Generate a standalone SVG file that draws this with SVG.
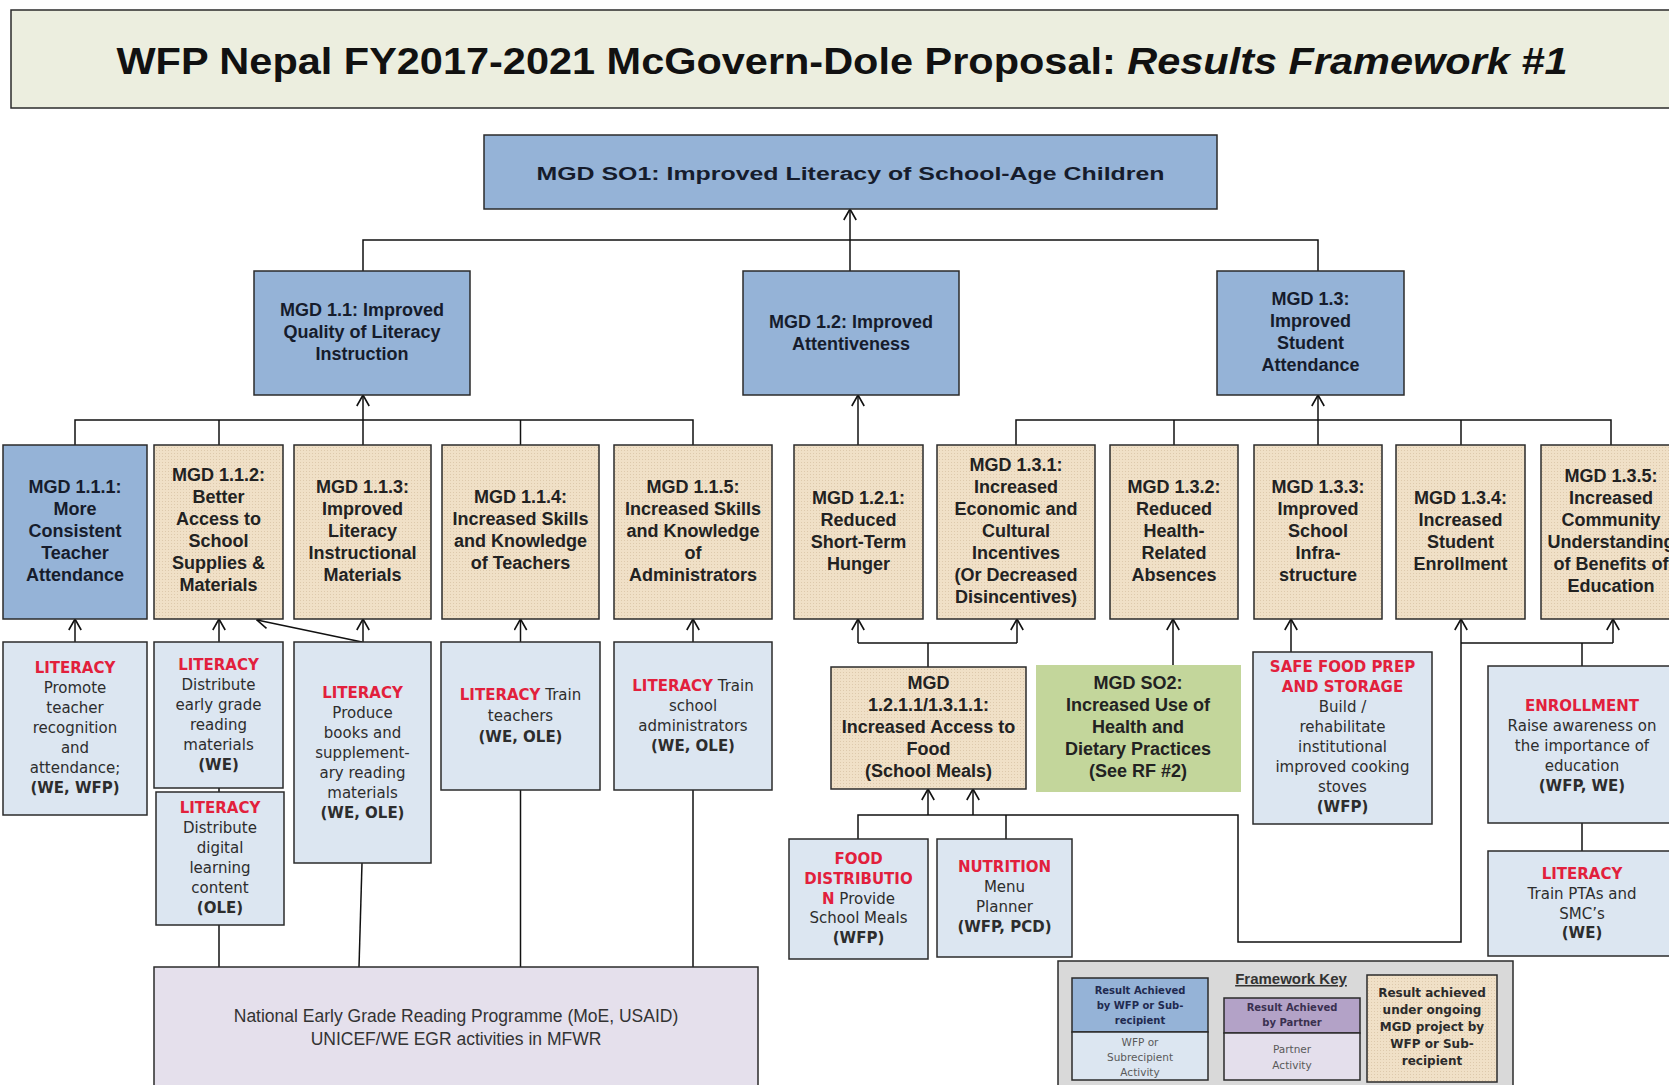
<svg xmlns="http://www.w3.org/2000/svg" width="1669" height="1085" viewBox="0 0 1669 1085">
<defs>
<pattern id="hatch" width="3" height="3" patternUnits="userSpaceOnUse">
<rect width="3" height="3" fill="#F0E0C7"/>
<rect width="1" height="1" fill="#DDC9AC"/>
</pattern>
<marker id="arr" viewBox="0 0 13 14" refX="12" refY="7" markerWidth="13" markerHeight="14" markerUnits="userSpaceOnUse" orient="auto">
<path d="M1,0.8 L12,7 L1,13.2" fill="none" stroke="#111" stroke-width="1.6"/>
</marker>
</defs>
<style>
.box{stroke:#2b2b2b;stroke-width:1.5}
.res{fill:#95B3D7}
.tan{fill:url(#hatch)}
.act{fill:#DCE6F1}
.t{font-family:"Liberation Sans",Arial,sans-serif;font-weight:bold;font-size:18px;fill:#222;text-anchor:middle}
.tb{fill:#161c2c}
.a{font-family:"DejaVu Sans",Verdana,sans-serif;font-size:15px;fill:#2d2d2d;text-anchor:middle}
.red{fill:#E2203C;font-weight:bold}
.b{font-weight:bold}
.conn line,.conn polyline{stroke:#111;stroke-width:1.5;fill:none}
.k{font-family:"DejaVu Sans",Verdana,sans-serif;text-anchor:middle}
</style>
<rect width="1669" height="1085" fill="#ffffff"/>

<g id="title">
<rect x="11" y="10" width="1670" height="98" fill="#ECEEDF" stroke="#2b2b2b" stroke-width="1.5"/>
<text x="842" y="74" font-family="Liberation Sans,Arial,sans-serif" font-weight="bold" font-size="37" fill="#111" text-anchor="middle" textLength="1451" lengthAdjust="spacingAndGlyphs">WFP Nepal FY2017-2021 McGovern-Dole Proposal: <tspan font-style="italic">Results Framework #1</tspan></text>
</g>

<g class="conn" id="connectors">
<line x1="850" y1="271" x2="850" y2="209" marker-end="url(#arr)"/>
<polyline points="363,271 363,240 1318,240 1318,271"/>
<line x1="363" y1="445" x2="363" y2="395" marker-end="url(#arr)"/>
<polyline points="75,445 75,420 693,420 693,445"/>
<line x1="219" y1="420" x2="219" y2="445"/>
<line x1="520.5" y1="420" x2="520.5" y2="445"/>
<line x1="858" y1="445" x2="858" y2="395" marker-end="url(#arr)"/>
<line x1="1318" y1="445" x2="1318" y2="395" marker-end="url(#arr)"/>
<polyline points="1016,445 1016,420 1611,420 1611,445"/>
<line x1="1174" y1="420" x2="1174" y2="445"/>
<line x1="1461" y1="420" x2="1461" y2="445"/>
<line x1="75" y1="642" x2="75" y2="619" marker-end="url(#arr)"/>
<line x1="219" y1="642" x2="219" y2="619" marker-end="url(#arr)"/>
<line x1="363" y1="642" x2="363" y2="619" marker-end="url(#arr)"/>
<line x1="362" y1="642" x2="257" y2="620" marker-end="url(#arr)"/>
<line x1="520.5" y1="642" x2="520.5" y2="619" marker-end="url(#arr)"/>
<line x1="693" y1="642" x2="693" y2="619" marker-end="url(#arr)"/>
<line x1="219" y1="788" x2="219" y2="792"/>
<line x1="219" y1="925" x2="219" y2="967"/>
<line x1="362" y1="863" x2="359" y2="967"/>
<line x1="520.5" y1="790" x2="520.5" y2="967"/>
<line x1="693" y1="790" x2="693" y2="967"/>
<line x1="928" y1="667" x2="928" y2="643"/>
<polyline points="858,643 1017,643"/>
<line x1="858" y1="643" x2="858" y2="619" marker-end="url(#arr)"/>
<line x1="1017" y1="643" x2="1017" y2="619" marker-end="url(#arr)"/>
<line x1="1173" y1="665" x2="1173" y2="619" marker-end="url(#arr)"/>
<line x1="1291" y1="652" x2="1291" y2="619" marker-end="url(#arr)"/>
<polyline points="858,839 858,815 1238,815 1238,942 1461,942 1461,619" marker-end="url(#arr)"/>
<line x1="1006" y1="839" x2="1006" y2="815"/>
<line x1="928" y1="815" x2="928" y2="789" marker-end="url(#arr)"/>
<line x1="973" y1="815" x2="973" y2="789" marker-end="url(#arr)"/>
<line x1="1582" y1="666" x2="1582" y2="643"/>
<polyline points="1461,643 1613,643"/>
<line x1="1613" y1="643" x2="1613" y2="619" marker-end="url(#arr)"/>
<line x1="1582" y1="823" x2="1582" y2="851"/>
</g>

<g id="so1">
<rect class="box res" x="484" y="135" width="733" height="74"/>
<text class="t tb" x="850.5" y="180" font-size="23" textLength="628" lengthAdjust="spacingAndGlyphs">MGD SO1: Improved Literacy of School-Age Children</text>
</g>

<g id="mgd11">
<rect class="box res" x="254" y="271" width="216" height="124"/>
<text class="t tb"><tspan x="362" y="316">MGD 1.1: Improved</tspan><tspan x="362" y="338">Quality of Literacy</tspan><tspan x="362" y="360">Instruction</tspan></text>
</g>
<g id="mgd12">
<rect class="box res" x="743" y="271" width="216" height="124"/>
<text class="t tb"><tspan x="851" y="328">MGD 1.2: Improved</tspan><tspan x="851" y="350">Attentiveness</tspan></text>
</g>
<g id="mgd13">
<rect class="box res" x="1217" y="271" width="187" height="124"/>
<text class="t tb"><tspan x="1310.5" y="305">MGD 1.3:</tspan><tspan x="1310.5" y="327">Improved</tspan><tspan x="1310.5" y="349">Student</tspan><tspan x="1310.5" y="371">Attendance</tspan></text>
</g>

<g id="mgd111">
<rect class="box res" x="3" y="445" width="144" height="174"/>
<text class="t tb"><tspan x="75" y="493">MGD 1.1.1:</tspan><tspan x="75" y="515">More</tspan><tspan x="75" y="537">Consistent</tspan><tspan x="75" y="559">Teacher</tspan><tspan x="75" y="581">Attendance</tspan></text>
</g>
<g id="mgd112">
<rect class="box tan" x="154" y="445" width="129" height="174"/>
<text class="t"><tspan x="218.5" y="481">MGD 1.1.2:</tspan><tspan x="218.5" y="503">Better</tspan><tspan x="218.5" y="525">Access to</tspan><tspan x="218.5" y="547">School</tspan><tspan x="218.5" y="569">Supplies &amp;</tspan><tspan x="218.5" y="591">Materials</tspan></text>
</g>
<g id="mgd113">
<rect class="box tan" x="294" y="445" width="137" height="174"/>
<text class="t"><tspan x="362.5" y="493">MGD 1.1.3:</tspan><tspan x="362.5" y="515">Improved</tspan><tspan x="362.5" y="537">Literacy</tspan><tspan x="362.5" y="559">Instructional</tspan><tspan x="362.5" y="581">Materials</tspan></text>
</g>
<g id="mgd114">
<rect class="box tan" x="442" y="445" width="157" height="174"/>
<text class="t"><tspan x="520.5" y="503">MGD 1.1.4:</tspan><tspan x="520.5" y="525">Increased Skills</tspan><tspan x="520.5" y="547">and Knowledge</tspan><tspan x="520.5" y="569">of Teachers</tspan></text>
</g>
<g id="mgd115">
<rect class="box tan" x="614" y="445" width="158" height="174"/>
<text class="t"><tspan x="693" y="493">MGD 1.1.5:</tspan><tspan x="693" y="515">Increased Skills</tspan><tspan x="693" y="537">and Knowledge</tspan><tspan x="693" y="559">of</tspan><tspan x="693" y="581">Administrators</tspan></text>
</g>
<g id="mgd121">
<rect class="box tan" x="794" y="445" width="129" height="174"/>
<text class="t"><tspan x="858.5" y="504">MGD 1.2.1:</tspan><tspan x="858.5" y="526">Reduced</tspan><tspan x="858.5" y="548">Short-Term</tspan><tspan x="858.5" y="570">Hunger</tspan></text>
</g>
<g id="mgd131">
<rect class="box tan" x="937" y="445" width="158" height="174"/>
<text class="t"><tspan x="1016" y="471">MGD 1.3.1:</tspan><tspan x="1016" y="493">Increased</tspan><tspan x="1016" y="515">Economic and</tspan><tspan x="1016" y="537">Cultural</tspan><tspan x="1016" y="559">Incentives</tspan><tspan x="1016" y="581">(Or Decreased</tspan><tspan x="1016" y="603">Disincentives)</tspan></text>
</g>
<g id="mgd132">
<rect class="box tan" x="1110" y="445" width="128" height="174"/>
<text class="t"><tspan x="1174" y="493">MGD 1.3.2:</tspan><tspan x="1174" y="515">Reduced</tspan><tspan x="1174" y="537">Health-</tspan><tspan x="1174" y="559">Related</tspan><tspan x="1174" y="581">Absences</tspan></text>
</g>
<g id="mgd133">
<rect class="box tan" x="1254" y="445" width="128" height="174"/>
<text class="t"><tspan x="1318" y="493">MGD 1.3.3:</tspan><tspan x="1318" y="515">Improved</tspan><tspan x="1318" y="537">School</tspan><tspan x="1318" y="559">Infra-</tspan><tspan x="1318" y="581">structure</tspan></text>
</g>
<g id="mgd134">
<rect class="box tan" x="1396" y="445" width="129" height="174"/>
<text class="t"><tspan x="1460.5" y="504">MGD 1.3.4:</tspan><tspan x="1460.5" y="526">Increased</tspan><tspan x="1460.5" y="548">Student</tspan><tspan x="1460.5" y="570">Enrollment</tspan></text>
</g>
<g id="mgd135">
<rect class="box tan" x="1541" y="445" width="140" height="174"/>
<text class="t"><tspan x="1611" y="482">MGD 1.3.5:</tspan><tspan x="1611" y="504">Increased</tspan><tspan x="1611" y="526">Community</tspan><tspan x="1611" y="548">Understanding</tspan><tspan x="1611" y="570">of Benefits of</tspan><tspan x="1611" y="592">Education</tspan></text>
</g>

<g id="act-teacher-recognition">
<rect class="box act" x="3" y="642" width="144" height="173"/>
<text class="a"><tspan class="red" x="75" y="673">LITERACY</tspan><tspan x="75" y="693">Promote</tspan><tspan x="75" y="713">teacher</tspan><tspan x="75" y="733">recognition</tspan><tspan x="75" y="753">and</tspan><tspan x="75" y="773">attendance;</tspan><tspan class="b" x="75" y="793">(WE, WFP)</tspan></text>
</g>
<g id="act-early-grade">
<rect class="box act" x="154" y="642" width="129" height="146"/>
<text class="a"><tspan class="red" x="218.5" y="670">LITERACY</tspan><tspan x="218.5" y="690">Distribute</tspan><tspan x="218.5" y="710">early grade</tspan><tspan x="218.5" y="730">reading</tspan><tspan x="218.5" y="750">materials</tspan><tspan class="b" x="218.5" y="770">(WE)</tspan></text>
</g>
<g id="act-digital">
<rect class="box act" x="156" y="792" width="128" height="133"/>
<text class="a"><tspan class="red" x="220" y="813">LITERACY</tspan><tspan x="220" y="833">Distribute</tspan><tspan x="220" y="853">digital</tspan><tspan x="220" y="873">learning</tspan><tspan x="220" y="893">content</tspan><tspan class="b" x="220" y="913">(OLE)</tspan></text>
</g>
<g id="act-books">
<rect class="box act" x="294" y="642" width="137" height="221"/>
<text class="a"><tspan class="red" x="362.5" y="698">LITERACY</tspan><tspan x="362.5" y="718">Produce</tspan><tspan x="362.5" y="738">books and</tspan><tspan x="362.5" y="758">supplement-</tspan><tspan x="362.5" y="778">ary reading</tspan><tspan x="362.5" y="798">materials</tspan><tspan class="b" x="362.5" y="818">(WE, OLE)</tspan></text>
</g>
<g id="act-train-teachers">
<rect class="box act" x="441" y="642" width="159" height="148"/>
<text class="a"><tspan x="520.5" y="700"><tspan class="red">LITERACY</tspan> Train</tspan><tspan x="520.5" y="721">teachers</tspan><tspan class="b" x="520.5" y="742">(WE, OLE)</tspan></text>
</g>
<g id="act-train-admins">
<rect class="box act" x="614" y="642" width="158" height="148"/>
<text class="a"><tspan x="693" y="691"><tspan class="red">LITERACY</tspan> Train</tspan><tspan x="693" y="711">school</tspan><tspan x="693" y="731">administrators</tspan><tspan class="b" x="693" y="751">(WE, OLE)</tspan></text>
</g>

<g id="national-egr">
<rect class="box" x="154" y="967" width="604" height="130" fill="#E5E0EC"/>
<text font-family="Liberation Sans,Arial,sans-serif" font-size="17.5" fill="#333" text-anchor="middle"><tspan x="456" y="1022">National Early Grade Reading Programme (MoE, USAID)</tspan><tspan x="456" y="1045">UNICEF/WE EGR activities in MFWR</tspan></text>
</g>

<g id="mgd1211">
<rect class="box tan" x="831" y="667" width="195" height="122"/>
<text class="t"><tspan x="928.5" y="689">MGD</tspan><tspan x="928.5" y="711">1.2.1.1/1.3.1.1:</tspan><tspan x="928.5" y="733">Increased  Access to</tspan><tspan x="928.5" y="755">Food</tspan><tspan x="928.5" y="777">(School Meals)</tspan></text>
</g>
<g id="so2">
<rect x="1036" y="665" width="205" height="127" fill="#C3D69B"/>
<text class="t"><tspan x="1138" y="689">MGD SO2:</tspan><tspan x="1138" y="711">Increased  Use of</tspan><tspan x="1138" y="733">Health and</tspan><tspan x="1138" y="755">Dietary Practices</tspan><tspan x="1138" y="777">(See RF #2)</tspan></text>
</g>
<g id="act-food">
<rect class="box act" x="789" y="839" width="139" height="120"/>
<text class="a"><tspan class="red" x="858.5" y="864">FOOD</tspan><tspan class="red" x="858.5" y="884">DISTRIBUTIO</tspan><tspan x="858.5" y="904"><tspan class="red">N</tspan> Provide</tspan><tspan x="858.5" y="923">School Meals</tspan><tspan class="b" x="858.5" y="943">(WFP)</tspan></text>
</g>
<g id="act-nutrition">
<rect class="box act" x="937" y="839" width="135" height="118"/>
<text class="a"><tspan class="red" x="1004.5" y="872">NUTRITION</tspan><tspan x="1004.5" y="892">Menu</tspan><tspan x="1004.5" y="912">Planner</tspan><tspan class="b" x="1004.5" y="932">(WFP, PCD)</tspan></text>
</g>
<g id="act-safe-food">
<rect class="box act" x="1253" y="652" width="179" height="172"/>
<text class="a"><tspan class="red" x="1342.5" y="672">SAFE FOOD PREP</tspan><tspan class="red" x="1342.5" y="692">AND STORAGE</tspan><tspan x="1342.5" y="712">Build /</tspan><tspan x="1342.5" y="732">rehabilitate</tspan><tspan x="1342.5" y="752">institutional</tspan><tspan x="1342.5" y="772">improved cooking</tspan><tspan x="1342.5" y="792">stoves</tspan><tspan class="b" x="1342.5" y="812">(WFP)</tspan></text>
</g>
<g id="act-enrollment">
<rect class="box act" x="1488" y="666" width="190" height="157"/>
<text class="a"><tspan class="red" x="1582" y="711">ENROLLMENT</tspan><tspan x="1582" y="731">Raise awareness on</tspan><tspan x="1582" y="751">the importance of</tspan><tspan x="1582" y="771">education</tspan><tspan class="b" x="1582" y="791">(WFP, WE)</tspan></text>
</g>
<g id="act-ptas">
<rect class="box act" x="1488" y="851" width="190" height="105"/>
<text class="a"><tspan class="red" x="1582" y="879">LITERACY</tspan><tspan x="1582" y="899">Train PTAs and</tspan><tspan x="1582" y="919">SMC’s</tspan><tspan class="b" x="1582" y="938">(WE)</tspan></text>
</g>

<g id="framework-key">
<rect class="box" x="1058" y="961" width="455" height="130" fill="#D9D9D9"/>
<text x="1291" y="984" font-family="Liberation Sans,Arial,sans-serif" font-weight="bold" font-size="15" fill="#333" text-anchor="middle" text-decoration="underline">Framework Key</text>
<rect class="box res" x="1072" y="978" width="136" height="54"/>
<rect class="box act" x="1072" y="1032" width="136" height="48"/>
<text class="k" font-size="10" font-weight="bold" fill="#1F2A50"><tspan x="1140" y="994">Result Achieved</tspan><tspan x="1140" y="1009">by WFP or Sub-</tspan><tspan x="1140" y="1024">recipient</tspan></text>
<text class="k" font-size="10.5" fill="#5a5a5a"><tspan x="1140" y="1046">WFP or</tspan><tspan x="1140" y="1061">Subrecipient</tspan><tspan x="1140" y="1076">Activity</tspan></text>
<rect class="box" x="1224" y="998" width="136" height="35" fill="#B3A2C7"/>
<rect class="box" x="1224" y="1033" width="136" height="47" fill="#E4DFEC"/>
<text class="k" font-size="10" font-weight="bold" fill="#3a3050"><tspan x="1292" y="1011">Result Achieved</tspan><tspan x="1292" y="1026">by Partner</tspan></text>
<text class="k" font-size="10.5" fill="#5a5a5a"><tspan x="1292" y="1053">Partner</tspan><tspan x="1292" y="1069">Activity</tspan></text>
<rect class="box tan" x="1367" y="975" width="130" height="107"/>
<text class="k" font-size="12" font-weight="bold" fill="#2b2b2b"><tspan x="1432" y="997">Result achieved</tspan><tspan x="1432" y="1014">under ongoing</tspan><tspan x="1432" y="1031">MGD project by</tspan><tspan x="1432" y="1048">WFP or Sub-</tspan><tspan x="1432" y="1065">recipient</tspan></text>
</g>
</svg>
